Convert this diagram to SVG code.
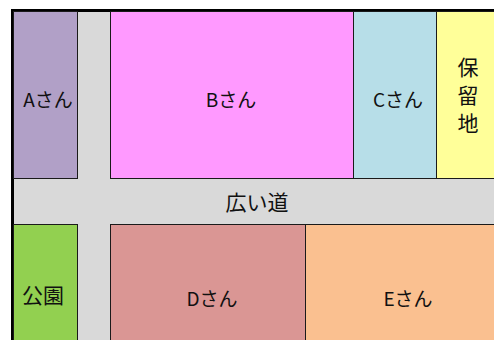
<svg xmlns="http://www.w3.org/2000/svg" width="494" height="340" viewBox="0 0 494 340">
  <style>
    .blk { stroke: #1a1a1a; stroke-width: 1; }
    .lbl { font-family: "Noto Sans CJK JP", "Noto Sans", sans-serif; font-size: 19px; fill: #111; text-anchor: middle; }
    .kanji { font-size: 21px; }
  </style>
  <rect x="0" y="0" width="494" height="340" fill="#ffffff"/>
  <g id="road">
    <rect x="14" y="12" width="480" height="328" fill="#d9d9d9"/>
    <text class="lbl kanji" x="257" y="210">広い道</text>
  </g>
  <g id="border">
    <rect x="11" y="9" width="483" height="3" fill="#000"/>
    <rect x="11" y="9" width="3" height="331" fill="#000"/>
  </g>
  <g id="nodeA">
    <rect class="blk" x="13.5" y="11.5" width="64" height="167" fill="#b1a0c7"/>
    <text class="lbl" x="48" y="107">Aさん</text>
  </g>
  <g id="nodeB">
    <rect class="blk" x="110.5" y="11.5" width="243" height="167" fill="#ff99ff"/>
    <text class="lbl" x="231" y="107">Bさん</text>
  </g>
  <g id="nodeC">
    <rect class="blk" x="353.5" y="11.5" width="83" height="167" fill="#b7dee8"/>
    <text class="lbl" x="398" y="107">Cさん</text>
  </g>
  <g id="nodeReserve">
    <rect class="blk" x="436.5" y="11.5" width="60" height="167" fill="#ffff99"/>
    <text class="lbl kanji" x="468" y="75">保</text>
    <text class="lbl kanji" x="468" y="103">留</text>
    <text class="lbl kanji" x="468" y="131">地</text>
  </g>
  <g id="nodePark">
    <rect class="blk" x="13.5" y="224.5" width="64" height="120" fill="#92d050"/>
    <text class="lbl kanji" x="43" y="303">公園</text>
  </g>
  <g id="nodeD">
    <rect class="blk" x="110.5" y="224.5" width="195" height="120" fill="#da9694"/>
    <text class="lbl" x="212" y="306">Dさん</text>
  </g>
  <g id="nodeE">
    <rect class="blk" x="305.5" y="224.5" width="195" height="120" fill="#fac090"/>
    <text class="lbl" x="408" y="306">Eさん</text>
  </g>
  <g id="connectors"></g>
</svg>
